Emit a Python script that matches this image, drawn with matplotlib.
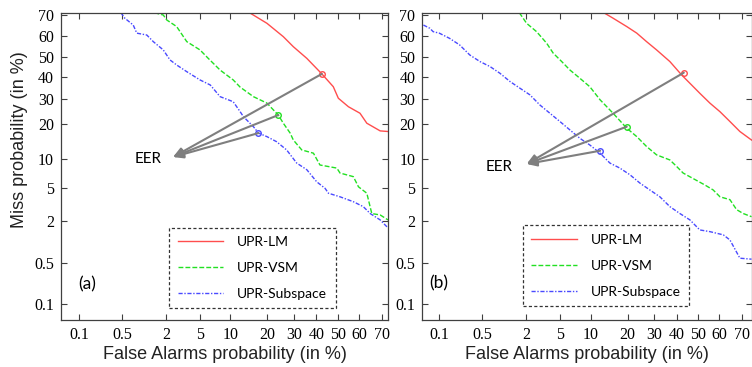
import math
import numpy as np
import matplotlib
matplotlib.use('Agg')
import matplotlib.pyplot as plt
from matplotlib.ticker import FixedLocator, FixedFormatter, NullLocator

plt.rcParams['font.family'] = 'serif'
plt.rcParams['font.serif'] = ['Liberation Serif', 'DejaVu Serif']

# Datos (en %), panel (a)
lm_a_x = [14.6, 19.9, 25.8, 29.8, 35.6, 42.5, 47.9, 50.3, 55.1, 60.5, 63.6, 69.4, 72.6]
lm_a_y = [70.9, 66.2, 59.9, 55.0, 49.2, 41.5, 35.4, 30.2, 26.6, 24.0, 20.3, 17.7, 17.5]
vsm_a_x = [1.43, 1.86, 2.06, 2.72, 3.57, 5.0, 6.1, 8.0, 10.6, 12.2, 15.7, 19.9, 23.9, 25.8,
           28.5, 29.8, 33.4, 38.6, 41.6, 49.6, 51.1, 57.4, 59.8, 63.6, 65.8, 69.4, 72.6]
vsm_a_y = [70.9, 69.9, 67.7, 64.7, 57.5, 53.4, 49.2, 43.4, 38.6, 35.2, 30.9, 28.1, 23.3, 20.3,
           17.0, 14.9, 12.2, 11.4, 8.8, 8.2, 7.3, 6.7, 5.2, 4.4, 2.5, 2.4, 2.07]
sub_a_x = [0.48, 0.55, 0.73, 0.82, 1.13, 1.38, 1.86, 2.26, 2.72, 3.57, 5.0, 6.4, 8.0, 10.6,
           12.2, 13.0, 15.7, 17.2, 19.9, 23.3, 27.1, 31.2, 35.6, 40.1, 44.0, 45.6, 51.1,
           57.4, 62.0, 65.1, 69.4, 72.6]
sub_a_y = [70.9, 68.5, 65.4, 61.6, 60.7, 57.5, 53.4, 48.4, 45.9, 42.6, 38.6, 36.2, 30.9, 28.7,
           24.6, 22.7, 19.1, 17.0, 15.9, 14.4, 12.2, 9.2, 7.9, 5.9, 5.0, 4.4, 4.0,
           3.5, 3.05, 2.5, 2.07, 1.62]

# panel (b)
lm_b_x = [13.0, 15.5, 19.7, 23.2, 26.9, 31.0, 36.8, 42.2, 46.9, 50.8, 55.6, 60.3, 64.8, 69.1, 73.8]
lm_b_y = [70.9, 68.5, 64.7, 61.6, 57.5, 53.4, 47.6, 41.0, 36.2, 32.4, 28.1, 24.6, 20.9, 17.5, 14.9]
vsm_b_x = [1.64, 2.03, 2.69, 3.53, 4.18, 5.17, 6.3, 7.9, 9.8, 12.1, 15.5, 19.7, 23.2, 26.9,
           31.0, 36.8, 39.9, 42.9, 47.6, 53.2, 57.1, 60.3, 64.8, 67.7, 70.5, 73.8]
vsm_b_y = [70.9, 66.2, 62.3, 56.7, 51.8, 47.6, 43.4, 39.4, 35.4, 29.5, 24.0, 18.6, 15.9, 13.1,
           11.0, 9.85, 8.5, 7.3, 6.4, 5.45, 4.8, 4.0, 3.7, 2.8, 2.5, 2.28]
sub_b_x = [0.052, 0.068, 0.078, 0.10, 0.15, 0.22, 0.32, 0.46, 0.65, 0.90, 1.24, 1.67, 2.23,
           2.95, 3.84, 4.95, 6.3, 7.9, 9.8, 12.1, 14.6, 17.5, 20.8, 24.4, 28.2, 32.4, 36.8,
           41.4, 46.1, 50.8, 55.6, 61.8, 64.8, 69.1, 73.8]
sub_b_y = [65.4, 63.9, 62.3, 61.6, 59.1, 55.9, 50.9, 47.6, 45.1, 41.8, 37.8, 34.7, 31.7,
           27.3, 24.0, 20.9, 18.0, 15.4, 13.5, 11.4, 9.2, 8.2, 7.0, 5.7, 4.8, 4.0, 3.05,
           2.5, 2.07, 1.52, 1.44, 1.3, 1.1, 0.59, 0.57]

# puntos EER (en %)
eer_a = [(42.5, 41.5), (23.9, 23.3), (17.2, 17.0)]
eer_b = [(43.2, 42.1), (19.7, 19.1), (12.1, 12.0)]

ticks = [0.1, 0.5, 2, 5, 10, 20, 30, 40, 50, 60, 70]
tick_labels = ['0.1', '0.5', '2', '5', '10', '20', '30', '40', '50', '60', '70']


# Escala normal (probit) para curvas DET
A = [-3.969683028665376e+01, 2.209460984245205e+02, -2.759285104469687e+02,
     1.383577518672690e+02, -3.066479806614716e+01, 2.506628277459239e+00]
B = [-5.447609879822406e+01, 1.615858368580409e+02, -1.556989798598866e+02,
     6.680131188771972e+01, -1.328068155288572e+01]
C = [-7.784894002430293e-03, -3.223964580411365e-01, -2.400758277161838e+00,
     -2.549732539343734e+00, 4.374664141464968e+00, 2.938163982698783e+00]
D = [7.784695709041462e-03, 3.224671290700398e-01, 2.445134137142996e+00,
     3.754408661907416e+00]


def ppf(p):
    p = np.clip(np.asarray(p, dtype=float), 1e-12, 1 - 1e-12)
    q = np.sqrt(-2 * np.log(np.minimum(p, 1 - p)))
    tail = (((((C[0]*q + C[1])*q + C[2])*q + C[3])*q + C[4])*q + C[5]) / \
           ((((D[0]*q + D[1])*q + D[2])*q + D[3])*q + 1)
    tail = np.where(p < 0.5, tail, -tail)
    r0 = p - 0.5
    r = r0 * r0
    mid = (((((A[0]*r + A[1])*r + A[2])*r + A[3])*r + A[4])*r + A[5]) * r0 / \
          (((((B[0]*r + B[1])*r + B[2])*r + B[3])*r + B[4])*r + 1)
    return np.where((p < 0.02425) | (p > 1 - 0.02425), tail, mid)


_erf = np.vectorize(math.erf)


def fwd(x):
    return ppf(np.asarray(x, dtype=float) / 100.0)


def inv(z):
    return 50.0 * (1 + _erf(np.asarray(z, dtype=float) / math.sqrt(2)))


red = '#ff4d4d'
green = '#22e022'
blue = '#4a4aff'
arrow_col = '#7f7f7f'
frame_col = '#404040'

fig = plt.figure(figsize=(7.52, 3.67), dpi=100)
ax_a = fig.add_axes([61 / 752, 47 / 367, 327 / 752, 307.3 / 367])
ax_b = fig.add_axes([422.3 / 752, 47 / 367, 329.2 / 752, 307.3 / 367])

panels = [
    (ax_a, lm_a_x, lm_a_y, vsm_a_x, vsm_a_y, sub_a_x, sub_a_y, eer_a, '(a)',
     (0.0475, 72.6), (2.46, 10.5), (1.17, 10.1), (0.331, 0.038), (0.08, 0.115)),
    (ax_b, lm_b_x, lm_b_y, vsm_b_x, vsm_b_y, sub_b_x, sub_b_y, eer_b, '(b)',
     (0.0496, 73.8), (2.03, 9.0), (0.88, 8.4), (0.305, 0.046), (0.05, 0.12)),
]

for (ax, lx, ly, vx, vy, sx, sy, eer, tag, xl, tip, txt, legpos, tagpos) in panels:
    ax.set_xscale('function', functions=(fwd, inv))
    ax.set_yscale('function', functions=(fwd, inv))
    ax.plot(lx, ly, color=red, lw=1.0, ls='-', label='UPR-LM')
    ax.plot(vx, vy, color=green, lw=1.0, ls=(0, (3.5, 1.5)), label='UPR-VSM')
    ax.plot(sx, sy, color=blue, lw=1.0, ls=(0, (3, 1.2, 1, 1.2)), label='UPR-Subspace')
    for (ex, ey), col in zip(eer, [red, green, blue]):
        ax.plot([ex], [ey], 'o', mfc='none', mec=col, ms=4, mew=1.0)
        ax.annotate('', xy=tip, xytext=(ex, ey),
                    arrowprops=dict(arrowstyle='-|>,head_length=0.6,head_width=0.25',
                                    color=arrow_col, lw=1.5, shrinkA=0, shrinkB=0))
    ax.text(txt[0], txt[1], 'EER', family='Lato', fontsize=11, ha='center', va='center')
    ax.text(tagpos[0], tagpos[1], tag, transform=ax.transAxes, family='Lato',
            fontsize=12.5, ha='center', va='center')

    ax.set_xlim(xl)
    ax.set_ylim(0.05, 70.9)
    for axis in (ax.xaxis, ax.yaxis):
        axis.set_major_locator(FixedLocator(ticks))
        axis.set_major_formatter(FixedFormatter(tick_labels))
        axis.set_minor_locator(NullLocator())
    ax.tick_params(direction='in', length=4, width=0.8, color=frame_col,
                   top=True, right=True, labelsize=11.5, pad=5)
    for s in ax.spines.values():
        s.set_color(frame_col)
        s.set_linewidth(0.9)

    ax.set_xlabel('False Alarms probability (in %)', family='Liberation Sans',
                  fontsize=13, color='#222222', labelpad=2)

    leg = ax.legend(loc='lower left', bbox_to_anchor=legpos, borderaxespad=0,
                    prop={'family': 'Lato', 'size': 10},
                    handlelength=3.3, handletextpad=1.0, labelspacing=1.0,
                    borderpad=0.6, fancybox=False, framealpha=1)
    fr = leg.get_frame()
    fr.set_linestyle((0, (2.5, 1.8)))
    fr.set_edgecolor('#333333')
    fr.set_linewidth(0.9)

ax_a.set_ylabel('Miss probability (in %)', family='Liberation Sans', fontsize=13,
                color='#222222')
ax_a.yaxis.set_label_coords(-0.10, 0.587)

fig.savefig('out.png', dpi=100)
